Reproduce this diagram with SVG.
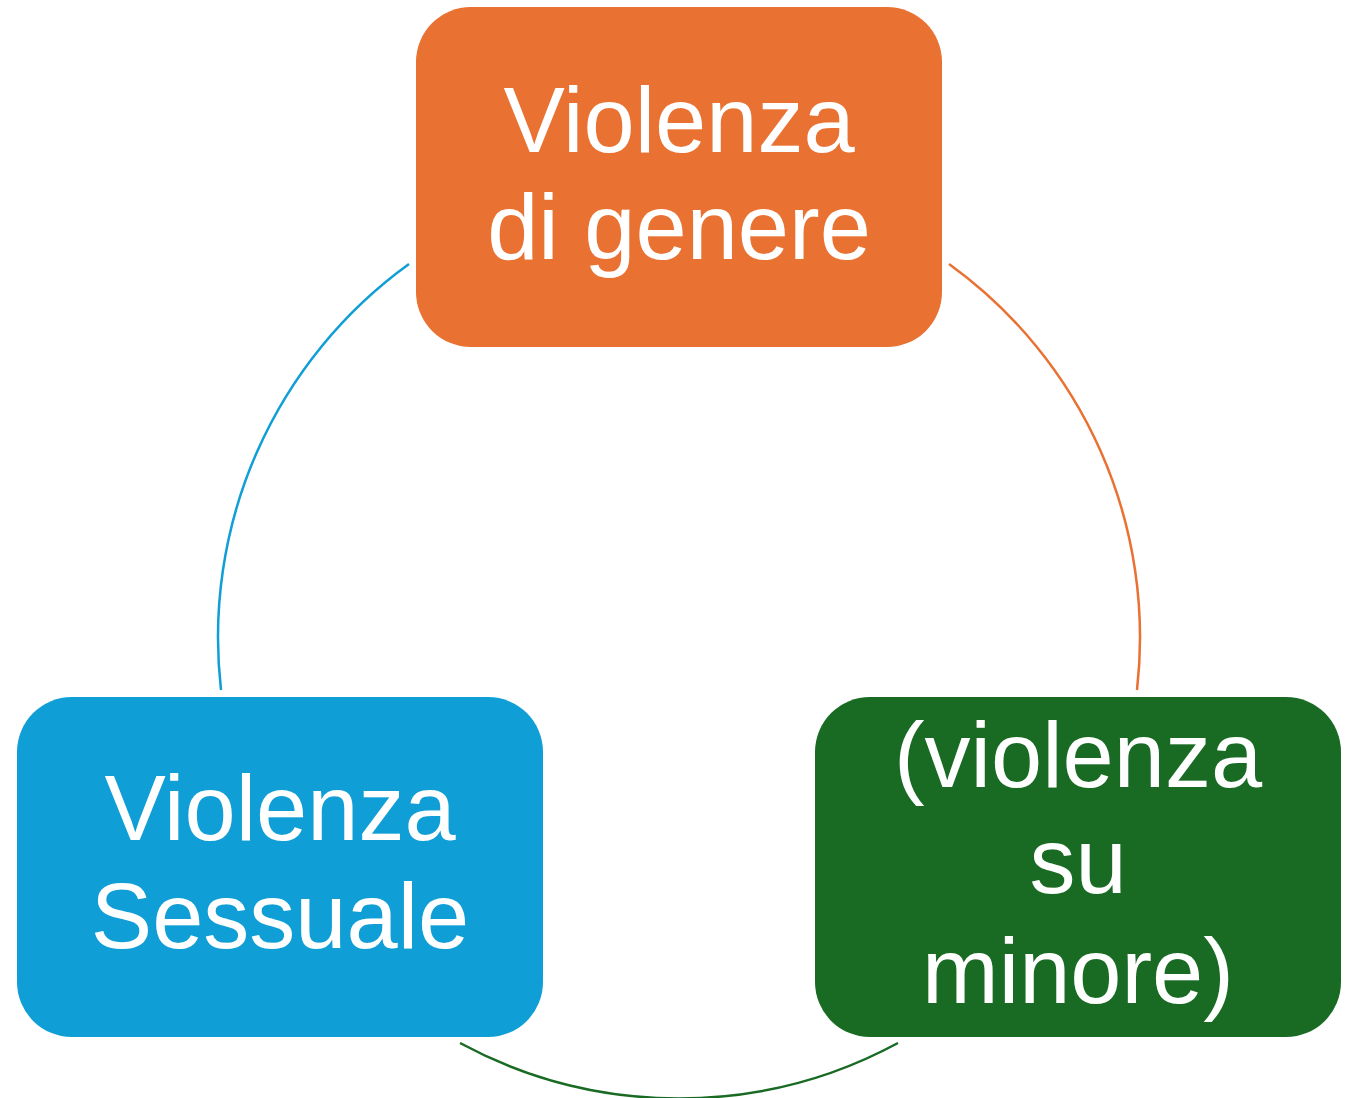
<svg xmlns="http://www.w3.org/2000/svg" width="1355" height="1098" viewBox="0 0 1355 1098">
<style>
.lbl{font-family:"Liberation Sans",Arial,sans-serif;font-size:92px;fill:#fff;text-anchor:middle}
.arc{fill:none;stroke-width:2.5}
</style>
<rect width="1355" height="1098" fill="#fff"/>
<g id="connectors">
<path class="arc" stroke="#E97132" d="M949,264 A460.5,460.5 0 0 1 1137,690"/>
<path class="arc" stroke="#196B24" d="M898,1043 A460.5,460.5 0 0 1 460,1043"/>
<path class="arc" stroke="#0F9ED5" d="M221,690 A460.5,460.5 0 0 1 409,264"/>
</g>
<g id="node-genere">
<rect x="416" y="7" width="526" height="340" rx="55" fill="#E97132"/>
<text class="lbl" x="679" y="152">Violenza</text>
<text class="lbl" x="679" y="259">di genere</text>
</g>
<g id="node-sessuale">
<rect x="17" y="697" width="526" height="340" rx="55" fill="#0F9ED5"/>
<text class="lbl" x="280" y="840">Violenza</text>
<text class="lbl" x="280" y="948">Sessuale</text>
</g>
<g id="node-minore">
<rect x="815" y="697" width="526" height="340" rx="55" fill="#196B24"/>
<text class="lbl" x="1078" y="787">(violenza</text>
<text class="lbl" x="1078" y="893">su</text>
<text class="lbl" x="1078" y="1003">minore)</text>
</g>
</svg>
